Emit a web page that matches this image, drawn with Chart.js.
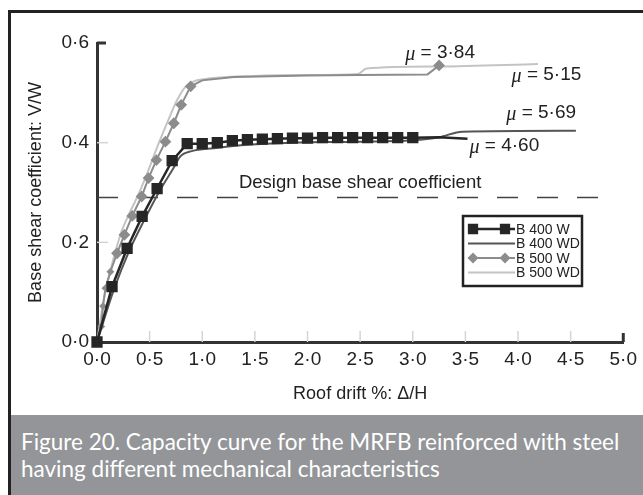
<!doctype html>
<html lang="en">
<head>
<meta charset="UTF-8">
<title>Capacity curve</title>
<script src="https://cdn.jsdelivr.net/npm/chart.js@4/dist/chart.umd.min.js"></script>
<style>
    html, body { margin: 0; padding: 0; background: #fff; }
    body { width: 643px; height: 495px; position: relative; overflow: hidden; }
    #frame { position: absolute; left: 8px; top: 10px; width: 640px; height: 490px;
             border-left: 3px solid #222; border-top: 3px solid #222; }
    #wrap { position: absolute; left: 0; top: 0; width: 643px; height: 415px; }
    #caption { position: absolute; left: 11px; top: 415px; width: 632px; height: 80px;
               background: #939598; color: #fff; font-family: Lato, "Open Sans", sans-serif;
               font-size: 22.5px; line-height: 27px; padding: 13px 0 0 10px; box-sizing: border-box;
               white-space: nowrap; }
</style>
</head>
<body>
<div id="frame"></div>
<div id="wrap"><canvas id="myChart" width="643" height="415"></canvas></div>
<div id="caption">Figure 20. Capacity curve for the MRFB reinforced with steel<br>having different mechanical characteristics</div>
<script>
    // tick labels
    var xTickLabels = ["0·0", "0·5", "1·0", "1·5", "2·0", "2·5", "3·0", "3·5", "4·0", "4·5", "5·0"];
    var yTickLabels = ["0·0", "0·2", "0·4", "0·6"];

    // B 400 W (squares)
    var b400wX = [0, 0.143, 0.286, 0.429, 0.571, 0.714, 0.857, 1.0, 1.143, 1.286, 1.429, 1.571, 1.714, 1.857,
                  2.0, 2.143, 2.286, 2.429, 2.571, 2.714, 2.857, 3.0, 3.25, 3.52];
    var b400wY = [0, 0.111, 0.188, 0.252, 0.308, 0.364, 0.398, 0.398, 0.400, 0.404, 0.406, 0.407, 0.408, 0.409,
                  0.409, 0.410, 0.410, 0.410, 0.410, 0.410, 0.410, 0.410, 0.411, 0.408];

    // B 400 WD
    var b400wdX = [0, 0.16, 0.30, 0.45, 0.60, 0.73, 0.79, 0.90, 1.11, 1.43, 1.85, 2.5, 3.0, 3.25, 3.47, 4.55];
    var b400wdY = [0, 0.105, 0.180, 0.245, 0.305, 0.350, 0.372, 0.383, 0.389, 0.396, 0.400, 0.402, 0.405, 0.411, 0.422, 0.424];

    // B 500 W (diamonds)
    var b500wX = [0, 0.04, 0.057, 0.08, 0.127, 0.19, 0.26, 0.335, 0.424, 0.49, 0.564, 0.65, 0.73, 0.80, 0.89,
                  1.0, 1.3, 2.0, 2.5, 3.14, 3.25];
    var b500wY = [0, 0.031, 0.072, 0.108, 0.141, 0.178, 0.215, 0.253, 0.292, 0.329, 0.365, 0.402, 0.439, 0.476, 0.513,
                  0.525, 0.532, 0.535, 0.536, 0.537, 0.555];

    // B 500 WD
    var b500wdX = [0, 0.03, 0.06, 0.10, 0.16, 0.23, 0.30, 0.38, 0.47, 0.57, 0.667, 0.76, 0.84, 0.92, 1.0, 1.5, 2.0, 2.48, 2.56, 3.25, 4.19];
    var b500wdY = [0, 0.040, 0.080, 0.120, 0.170, 0.220, 0.255, 0.290, 0.335, 0.390, 0.440, 0.485, 0.512, 0.523, 0.527, 0.534, 0.536, 0.538, 0.549, 0.553, 0.558];

    // design base shear coefficient
    var designX = [0, 4.83];
    var designY = [0.29, 0.29];

    // ductility labels: [text, x, y]
    var muLabels = [
        ["3·84", 3.26, 0.580],
        ["5·15", 4.27, 0.536],
        ["5·69", 4.22, 0.460],
        ["4·60", 3.87, 0.394]
    ];
    var designLabel = ["Design base shear coefficient", 2.5, 0.319];

    var pts = function (xs, ys) {
        return xs.map(function (x, i) { return {x: x, y: ys[i]}; });
    };

    var sansFont = '"Liberation Sans", Arial, sans-serif';

    var innerTicks = {
        id: 'innerTicks',
        beforeDatasetsDraw: function (chart) {
            var ctx = chart.ctx, a = chart.chartArea;
            var xs = chart.scales.x, ys = chart.scales.y;
            ctx.save();
            ctx.strokeStyle = '#d4d4d4';
            ctx.lineWidth = 1.5;
            xs.ticks.forEach(function (t) {
                if (t.value === 0 || t.value === 5) return;
                var px = xs.getPixelForValue(t.value);
                ctx.beginPath();
                ctx.moveTo(px, a.bottom);
                ctx.lineTo(px, a.bottom - 11);
                ctx.stroke();
            });
            ys.ticks.forEach(function (t) {
                if (t.value === 0 || t.value === 0.6) return;
                var py = ys.getPixelForValue(t.value);
                ctx.beginPath();
                ctx.moveTo(a.left, py);
                ctx.lineTo(a.left + 11, py);
                ctx.stroke();
            });
            // dark end ticks
            ctx.strokeStyle = '#333';
            ctx.lineWidth = 3;
            ctx.beginPath();
            ctx.moveTo(a.left, ys.getPixelForValue(0.6));
            ctx.lineTo(a.left + 9, ys.getPixelForValue(0.6));
            ctx.moveTo(xs.getPixelForValue(5), a.bottom);
            ctx.lineTo(xs.getPixelForValue(5), a.bottom - 9);
            ctx.stroke();
            ctx.restore();
        },
        afterDatasetsDraw: function (chart) {
            var ctx = chart.ctx;
            var xs = chart.scales.x, ys = chart.scales.y;
            ctx.save();
            ctx.fillStyle = '#222';
            ctx.textBaseline = 'middle';
            muLabels.forEach(function (m) {
                var rest = ' = ' + m[0];
                ctx.font = 'italic 20px "Liberation Serif", serif';
                var w1 = ctx.measureText('\u03bc').width;
                ctx.font = '19px ' + sansFont;
                var w2 = ctx.measureText(rest).width;
                var x0 = xs.getPixelForValue(m[1]) - (w1 + w2) / 2;
                var y0 = ys.getPixelForValue(m[2]);
                ctx.textAlign = 'left';
                ctx.font = 'italic 20px "Liberation Serif", serif';
                ctx.fillText('\u03bc', x0, y0 + 2);
                ctx.font = '19px ' + sansFont;
                ctx.fillText(rest, x0 + w1, y0);
            });
            ctx.font = '18.5px ' + sansFont;
            ctx.textAlign = 'center';
            ctx.fillText(designLabel[0], xs.getPixelForValue(designLabel[1]), ys.getPixelForValue(designLabel[2]));

            // legend box
            var ds = chart.data.datasets;
            var lx = 463, ly = 216, lw = 119, lh = 70;
            ctx.fillStyle = '#fff';
            ctx.fillRect(lx, ly, lw, lh);
            ctx.strokeStyle = '#222';
            ctx.lineWidth = 2.5;
            ctx.strokeRect(lx, ly, lw, lh);
            ctx.font = '14px ' + sansFont;
            ctx.textAlign = 'left';
            for (var i = 0; i < 4; i++) {
                var d = ds[i];
                var ry = ly + 13 + i * 14.5;
                ctx.strokeStyle = d.borderColor;
                ctx.lineWidth = d.borderWidth;
                ctx.beginPath();
                ctx.moveTo(lx + 5, ry);
                ctx.lineTo(lx + 52, ry);
                ctx.stroke();
                if (d.pointStyle === 'rect' || d.pointStyle === 'rectRot') {
                    [lx + 10, lx + 42].forEach(function (px) {
                        Chart.helpers.drawPoint(ctx, {pointStyle: d.pointStyle, radius: d.legendRadius, rotation: 0, borderWidth: 1},
                            px, ry);
                        ctx.fillStyle = d.pointBackgroundColor;
                        ctx.fill();
                    });
                }
                ctx.fillStyle = '#222';
                ctx.fillText(d.label, lx + 53, ry + 1);
            }
            ctx.restore();
        }
    };

    var ctx = document.getElementById("myChart").getContext("2d");
    var myChart = new Chart(ctx, {
        type: 'line',
        data: {
            datasets: [
                {
                    label: "B 400 W",
                    data: pts(b400wX, b400wY),
                    borderColor: '#262626',
                    backgroundColor: '#262626',
                    pointBackgroundColor: '#262626',
                    pointBorderColor: '#262626',
                    borderWidth: 2.5,
                    pointStyle: 'rect',
                    legendRadius: 5.5,
                    pointRadius: function (c) { return c.dataIndex < 22 ? 6.2 : 0; },
                    order: 1
                },
                {
                    label: "B 400 WD",
                    data: pts(b400wdX, b400wdY),
                    borderColor: '#555',
                    borderWidth: 2,
                    pointRadius: 0,
                    cubicInterpolationMode: 'monotone',
                    order: 2
                },
                {
                    label: "B 500 W",
                    data: pts(b500wX, b500wY),
                    borderColor: '#8c8c8c',
                    backgroundColor: '#8c8c8c',
                    pointBackgroundColor: '#8c8c8c',
                    pointBorderColor: '#8c8c8c',
                    borderWidth: 2,
                    pointStyle: 'rectRot',
                    legendRadius: 4,
                    pointRadius: function (c) {
                        if (c.dataIndex === 0) return 0;
                        if (c.dataIndex < 5) return 2.5;
                        return (c.dataIndex < 15 || c.dataIndex === b500wX.length - 1) ? 4.5 : 0;
                    },
                    order: 3
                },
                {
                    label: "B 500 WD",
                    data: pts(b500wdX, b500wdY),
                    borderColor: '#c4c4c4',
                    borderWidth: 2,
                    pointRadius: 0,
                    cubicInterpolationMode: 'monotone',
                    order: 4
                },
                {
                    label: "Design",
                    data: pts(designX, designY),
                    borderColor: '#444',
                    borderWidth: 1.5,
                    borderDash: [21, 19],
                    pointRadius: 0,
                    order: 5
                }
            ]
        },
        options: {
            responsive: false,
            animation: false,
            events: [],
            layout: {padding: {left: 25, top: 43, right: 10, bottom: 10}},
            plugins: {legend: {display: false}, tooltip: {enabled: false}},
            elements: {line: {tension: 0}},
            datasets: {line: {clip: false}},
            scales: {
                x: {
                    type: 'linear',
                    min: 0, max: 5,
                    afterFit: function (s) { s.height = 63; },
                    grid: {display: false, drawTicks: false, tickLength: 0},
                    border: {display: true, color: '#333', width: 3},
                    ticks: {
                        stepSize: 0.5,
                        padding: 6,
                        color: '#222',
                        font: {family: sansFont, size: 19},
                        maxRotation: 0,
                        callback: function (v, i) { return xTickLabels[i]; }
                    },
                    title: {
                        display: true,
                        text: 'Roof drift %: \u0394/H',
                        color: '#222',
                        font: {family: sansFont, size: 18},
                        padding: {top: 6, bottom: 0}
                    }
                },
                y: {
                    type: 'linear',
                    min: 0, max: 0.6,
                    afterFit: function (s) { s.width = 72; },
                    grid: {display: false, drawTicks: false, tickLength: 0},
                    border: {display: true, color: '#333', width: 3},
                    ticks: {
                        stepSize: 0.2,
                        padding: 8,
                        color: '#222',
                        font: {family: sansFont, size: 19},
                        callback: function (v, i) { return yTickLabels[i]; }
                    },
                    title: {
                        display: true,
                        text: 'Base shear coefficient: V/W',
                        color: '#222',
                        font: {family: sansFont, size: 18},
                        padding: {top: 0, bottom: 0}
                    }
                }
            }
        },
        plugins: [innerTicks]
    });
</script>
</body>
</html>
